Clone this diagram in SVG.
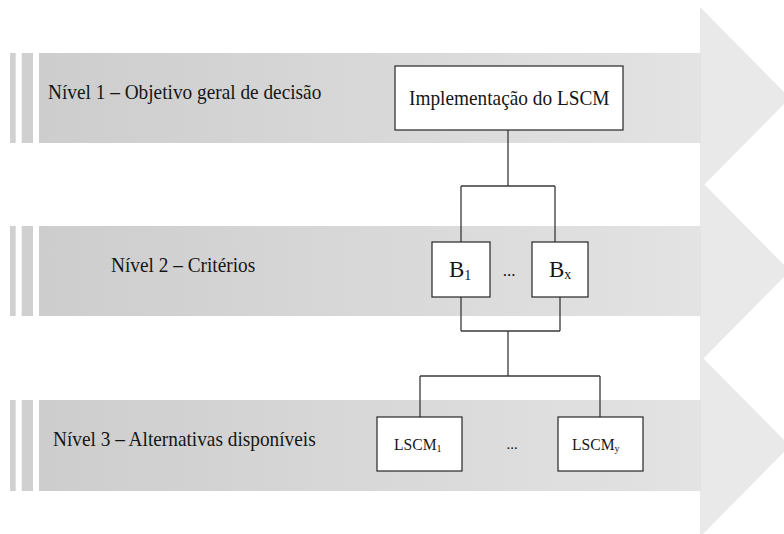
<svg xmlns="http://www.w3.org/2000/svg" width="784" height="534" viewBox="0 0 784 534">
  <defs>
    <linearGradient id="bodyFill" gradientUnits="userSpaceOnUse" x1="39" y1="0" x2="700" y2="0">
      <stop offset="0" stop-color="#cdcdcd"/>
      <stop offset="1" stop-color="#e3e3e3"/>
    </linearGradient>
  </defs>
  <style>
    .bar { fill: #d0d0d0; }
    .body { fill: url(#bodyFill); }
    .head { fill: #e9e9e9; }
    .lbl { font-family: "Liberation Serif", "Times New Roman", serif; fill: #161616; }
    .box { fill: #ffffff; stroke: #262626; stroke-width: 1.2; }
    .wire { fill: none; stroke: #3a3a3a; stroke-width: 1.3; }
  </style>

  <rect width="784" height="534" fill="#ffffff"/>

  <!-- level bands: two thin bars, a shaded body and an arrow head -->
  <g id="band1">
    <polygon class="head" points="700,7 790,98 700,189"/>
    <rect class="bar" x="10" y="53" width="5.7" height="90"/>
    <rect class="bar" x="21.7" y="53" width="11.3" height="90"/>
    <rect class="body" x="39" y="53" width="662" height="90"/>
    <text class="lbl" transform="translate(48,99) scale(0.92,1)" font-size="21">Nível 1 – Objetivo geral de decisão</text>
  </g>
  <g id="band2">
    <polygon class="head" points="700,180 790,271 700,362"/>
    <rect class="bar" x="10" y="226" width="5.7" height="90"/>
    <rect class="bar" x="21.7" y="226" width="11.3" height="90"/>
    <rect class="body" x="39" y="226" width="662" height="90"/>
    <text class="lbl" transform="translate(111,272) scale(0.92,1)" font-size="21">Nível 2 – Critérios</text>
  </g>
  <g id="band3">
    <polygon class="head" points="700,355 790,446 700,537"/>
    <rect class="bar" x="10" y="400" width="5.7" height="91"/>
    <rect class="bar" x="21.7" y="400" width="11.3" height="91"/>
    <rect class="body" x="39" y="400" width="662" height="91"/>
    <text class="lbl" transform="translate(53,446) scale(0.92,1)" font-size="21">Nível 3 – Alternativas disponíveis</text>
  </g>

  <!-- connectors -->
  <g id="connectors">
    <path class="wire" d="M508,130 V186 M461,186 H555 M461,186 V242 M555,186 V242"/>
    <path class="wire" d="M461,297 V331 M560,297 V331 M461,331 H560 M508,331 V376"/>
    <path class="wire" d="M420,376 H600 M420,376 V417 M600,376 V417"/>
  </g>

  <!-- goal -->
  <g id="goal">
    <rect class="box" x="395" y="66" width="228" height="64"/>
    <text class="lbl" transform="translate(409,105) scale(0.92,1)" font-size="21">Implementação do LSCM</text>
  </g>

  <!-- criteria -->
  <g id="criterion-b1">
    <rect class="box" x="432" y="242" width="58" height="55"/>
    <text class="lbl" x="449" y="277" font-size="23">B<tspan font-size="14" dy="3">1</tspan></text>
  </g>
  <g id="criteria-gap">
    <text class="lbl" x="509" y="276" font-size="17" text-anchor="middle">...</text>
  </g>
  <g id="criterion-bx">
    <rect class="box" x="532" y="242" width="56" height="55"/>
    <text class="lbl" x="549" y="277" font-size="23">B<tspan font-size="14" dy="2">x</tspan></text>
  </g>

  <!-- alternatives -->
  <g id="alternative-1">
    <rect class="box" x="377" y="417" width="85" height="54"/>
    <text class="lbl" transform="translate(394,450) scale(0.92,1)" font-size="17">LSCM<tspan font-size="11" dy="2">1</tspan></text>
  </g>
  <g id="alternatives-gap">
    <text class="lbl" x="512" y="449" font-size="15" text-anchor="middle">...</text>
  </g>
  <g id="alternative-y">
    <rect class="box" x="558" y="417" width="85" height="54"/>
    <text class="lbl" transform="translate(572,450) scale(0.92,1)" font-size="17">LSCM<tspan font-size="11" dy="2">y</tspan></text>
  </g>
</svg>
